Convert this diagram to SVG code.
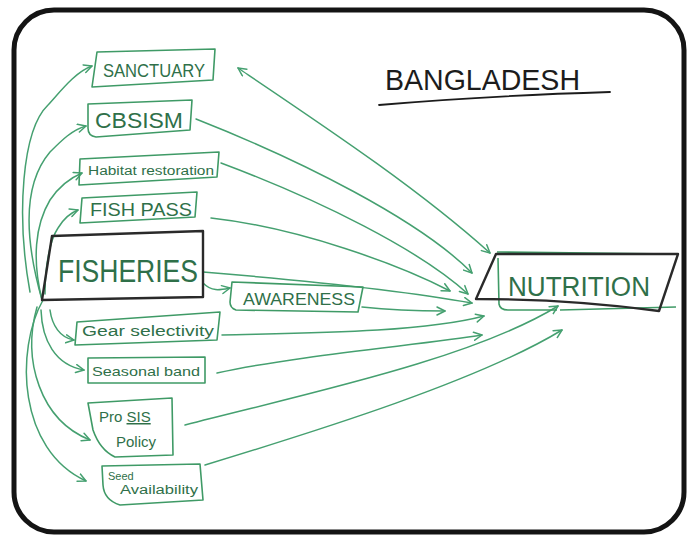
<svg xmlns="http://www.w3.org/2000/svg" width="694" height="539" viewBox="0 0 694 539">
  <style>
    .frame { fill: #ffffff; stroke: #141414; stroke-width: 5; }
    .gbox { fill: none; stroke: #3f9a66; stroke-width: 1.6; stroke-linejoin: round; }
    .kbox { fill: none; stroke: #2a2a2a; stroke-width: 2.4; stroke-linejoin: round; }
    .link { fill: none; stroke: #45a070; stroke-width: 1.5; stroke-linecap: round; }
    .lbl { font-family: "Liberation Sans", Arial, sans-serif; fill: #2f7049; }
    .title { font-family: "Liberation Sans", Arial, sans-serif; fill: #1c1c1c; }
  </style>
  <defs>
    <marker id="chev" viewBox="0 0 10 10" refX="9" refY="5" markerWidth="10" markerHeight="10" markerUnits="userSpaceOnUse" orient="auto-start-reverse">
      <path d="M1,1 L9,5 L1,9" fill="none" stroke="#45a070" stroke-width="1.5" stroke-linecap="round" stroke-linejoin="round"/>
    </marker>
  </defs>

  <rect x="0" y="0" width="694" height="539" fill="#ffffff"/>
  <rect class="frame" x="14" y="10" width="670" height="522" rx="40" ry="40"/>

  <!-- title -->
  <g id="title">
    <text class="title" x="385" y="90" font-size="30" textLength="195" lengthAdjust="spacingAndGlyphs">BANGLADESH</text>
    <path d="M379,105 Q480,96 610,92" fill="none" stroke="#1c1c1c" stroke-width="1.8" stroke-linecap="round"/>
  </g>

  <!-- connectors -->
  <g id="connectors">
    <!-- fan out from FISHERIES to its measures -->
    <path class="link" marker-end="url(#chev)" d="M30,292 C16,215 22,130 48,105 C60,92 75,72 92,66"/>
    <path class="link" marker-end="url(#chev)" d="M42,300 C25,240 22,185 50,152 C62,140 72,130 86,126"/>
    <path class="link" marker-end="url(#chev)" d="M42,300 C32,260 35,225 50,200 C58,188 70,178 82,173"/>
    <path class="link" marker-end="url(#chev)" d="M45,294 C45,265 50,240 58,228 C64,218 70,213 78,210"/>
    <path class="link" marker-end="url(#chev)" d="M203,283 C212,292 220,290 230,288"/>
    <path class="link" marker-end="url(#chev)" d="M50,310 C52,325 60,338 74,340"/>
    <path class="link" marker-end="url(#chev)" d="M41,310 C42,340 55,365 84,370"/>
    <path class="link" marker-end="url(#chev)" d="M37,307 C22,360 40,420 90,440"/>
    <path class="link" marker-end="url(#chev)" d="M43,300 C15,350 18,450 86,481"/>
    <!-- measures into NUTRITION -->
    <path class="link" marker-start="url(#chev)" marker-end="url(#chev)" d="M238,68 C330,130 420,190 490,253"/>
    <path class="link" marker-end="url(#chev)" d="M196,119 C300,160 420,220 472,273"/>
    <path class="link" marker-end="url(#chev)" d="M221,163 C320,200 420,250 468,294"/>
    <path class="link" marker-end="url(#chev)" d="M211,218 C300,228 400,265 450,291"/>
    <path class="link" marker-end="url(#chev)" d="M203,272 C300,280 400,290 472,303"/>
    <path class="link" marker-end="url(#chev)" d="M362,307 C390,310 420,311 445,311"/>
    <path class="link" marker-end="url(#chev)" d="M222,335 C300,333 420,333 484,316"/>
    <path class="link" marker-end="url(#chev)" d="M217,373 C300,355 420,345 482,335"/>
    <path class="link" marker-end="url(#chev)" d="M185,425 C300,395 470,360 558,306"/>
    <path class="link" marker-end="url(#chev)" d="M205,465 C320,430 480,380 562,330"/>
  </g>

  <g id="sanctuary">
    <polygon class="gbox" points="97,52 215,49 213,80 92,87"/>
    <text class="lbl" x="103" y="77" font-size="18" textLength="102" lengthAdjust="spacingAndGlyphs">SANCTUARY</text>
  </g>

  <g id="cbsism">
    <path class="gbox" d="M88,104 L192,100 L190,130 L96,137 Q88,136 88,128 Z"/>
    <text class="lbl" x="95" y="128" font-size="22" textLength="88" lengthAdjust="spacingAndGlyphs">CBSISM</text>
  </g>

  <g id="habitat">
    <polygon class="gbox" points="80,159 219,152 217,177 79,185"/>
    <text class="lbl" x="88" y="175" font-size="12" textLength="126" lengthAdjust="spacingAndGlyphs">Habitat restoration</text>
  </g>

  <g id="fishpass">
    <polygon class="gbox" points="82,198 197,192 195,217 80,223"/>
    <text class="lbl" x="90" y="216" font-size="18" textLength="102" lengthAdjust="spacingAndGlyphs">FISH PASS</text>
  </g>

  <g id="fisheries">
    <polygon class="kbox" points="52,236 203,231 203,297 42,300"/>
    <text class="lbl" x="58" y="282" font-size="32" textLength="140" lengthAdjust="spacingAndGlyphs" fill="#4a7a5e">FISHERIES</text>
  </g>

  <g id="awareness">
    <path class="gbox" d="M232,282 L363,287 L358,312 L236,310 Q230,308 230,302 Z"/>
    <text class="lbl" x="243" y="305" font-size="17" textLength="112" lengthAdjust="spacingAndGlyphs">AWARENESS</text>
  </g>

  <g id="gear">
    <polygon class="gbox" points="77,322 220,312 217,340 75,345"/>
    <text class="lbl" x="82" y="336" font-size="14" textLength="132" lengthAdjust="spacingAndGlyphs">Gear selectivity</text>
  </g>

  <g id="seasonal">
    <polygon class="gbox" points="88,358 205,357 205,383 88,383"/>
    <text class="lbl" x="92" y="376" font-size="13" textLength="108" lengthAdjust="spacingAndGlyphs">Seasonal band</text>
  </g>

  <g id="prosis">
    <path class="gbox" d="M88,403 L172,398 L173,455 L115,457 Q100,450 93,430 Z"/>
    <text class="lbl" x="99" y="422" font-size="15">Pro <tspan text-decoration="underline">SIS</tspan></text>
    <text class="lbl" x="116" y="447" font-size="15">Policy</text>
  </g>

  <g id="seed">
    <path class="gbox" d="M102,466 L200,464 L203,500 L120,505 Q104,500 103,485 Z"/>
    <text class="lbl" x="108" y="480" font-size="11">Seed</text>
    <text class="lbl" x="120" y="494" font-size="12" textLength="78" lengthAdjust="spacingAndGlyphs">Availability</text>
  </g>

  <g id="nutrition">
    <path class="gbox" d="M497,252 L674,254 M498,258 L499,304 Q500,310 508,310 L557,310 M560,310 L676,307"/>
    <path class="kbox" d="M496,254 L678,254 L659,311 Q570,299 476,299 Z"/>
    <text class="lbl" x="508" y="296" font-size="27" textLength="142" lengthAdjust="spacingAndGlyphs" fill="#4a7a5e">NUTRITION</text>
  </g>
</svg>
